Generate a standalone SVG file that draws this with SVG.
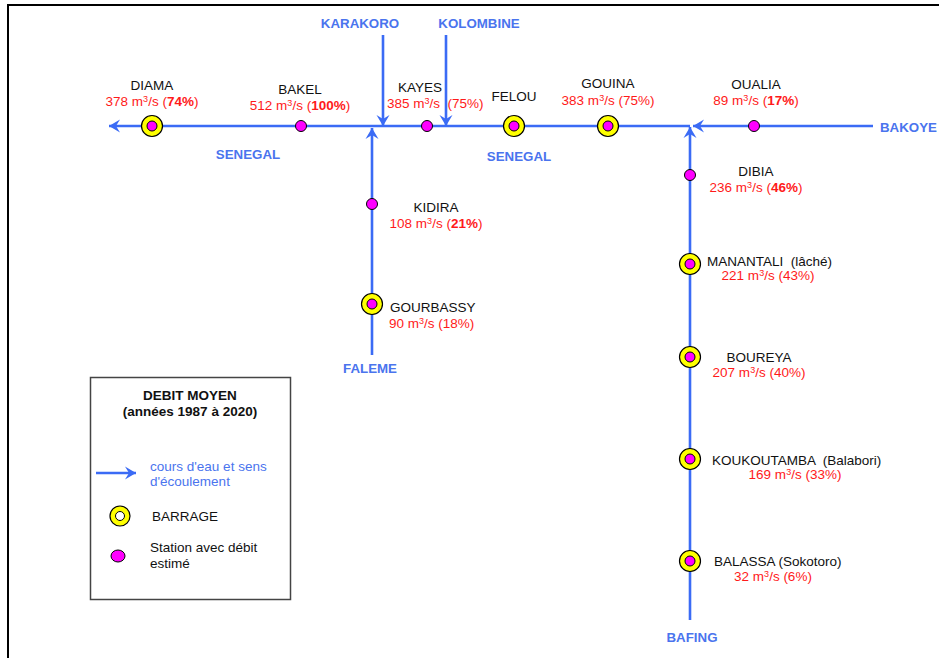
<svg xmlns="http://www.w3.org/2000/svg" width="939" height="658" viewBox="0 0 939 658">
<defs>
<marker id="ah" viewBox="-12 -7 13 14" markerWidth="13" markerHeight="14" refX="0" refY="0" orient="auto" markerUnits="userSpaceOnUse">
<path d="M0,0 L-11,-6.5 L-7,0 L-11,6.5 Z" fill="#3B6BF5"/>
</marker>
<style>
.riv{stroke:#3B6BF5;stroke-width:2.6;fill:none}
.t{font-family:"Liberation Sans",Arial,sans-serif;font-size:13.5px;fill:#111;white-space:pre}
.r{font-family:"Liberation Sans",Arial,sans-serif;font-size:13.5px;fill:#FF1A1A;white-space:pre}
.b{font-weight:bold}
.rl{font-family:"Liberation Sans",Arial,sans-serif;font-size:13.3px;font-weight:bold;fill:#4A74EE}
.dam{fill:#FFFF00;stroke:#000;stroke-width:1.2}
.st{fill:#FF00FF;stroke:#000;stroke-width:1}
.sup{font-size:9px}
</style>
</defs>
<rect width="939" height="658" fill="#fff"/>
<path d="M8,658 L8,5 L939,5" fill="none" stroke="#000" stroke-width="2"/>

<g id="connectors">
<line class="riv" x1="873" y1="126" x2="693" y2="126" marker-end="url(#ah)"/>
<line class="riv" x1="690" y1="126" x2="109" y2="126" marker-end="url(#ah)"/>
<line class="riv" x1="690" y1="620" x2="690" y2="127" marker-end="url(#ah)"/>
<line class="riv" x1="383" y1="35" x2="383" y2="126" marker-end="url(#ah)"/>
<line class="riv" x1="446" y1="35" x2="446" y2="126" marker-end="url(#ah)"/>
<line class="riv" x1="372" y1="355" x2="372" y2="128" marker-end="url(#ah)"/>
</g>

<g id="rivers">
<text class="rl" x="360" y="28" text-anchor="middle">KARAKORO</text>
<text class="rl" x="479" y="28" text-anchor="middle">KOLOMBINE</text>
<text class="rl" x="248" y="159" text-anchor="middle">SENEGAL</text>
<text class="rl" x="519" y="161" text-anchor="middle">SENEGAL</text>
<text class="rl" x="880" y="132">BAKOYE</text>
<text class="rl" x="370" y="373" text-anchor="middle">FALEME</text>
<text class="rl" x="692" y="642" text-anchor="middle">BAFING</text>
</g>

<g id="diama">
<circle class="dam" cx="152" cy="126" r="10.5"/><circle class="st" cx="152" cy="126" r="5"/>
<text class="t" x="152" y="90" text-anchor="middle">DIAMA</text>
<text class="r" x="152" y="106" text-anchor="middle">378 m<tspan class="sup" dy="-4">3</tspan><tspan dy="4">/s (</tspan><tspan class="b">74%</tspan>)</text>
</g>
<g id="bakel">
<circle class="st" cx="301" cy="126" r="5.5"/>
<text class="t" x="300" y="94" text-anchor="middle">BAKEL</text>
<text class="r" x="300" y="110" text-anchor="middle">512 m<tspan class="sup" dy="-4">3</tspan><tspan dy="4">/s (</tspan><tspan class="b">100%</tspan>)</text>
</g>
<g id="kayes">
<circle class="st" cx="427" cy="126" r="5.5"/>
<text class="t" x="420" y="92" text-anchor="middle">KAYES</text>
<text class="r" x="387" y="108">385 m<tspan class="sup" dy="-4">3</tspan><tspan dy="4">/s  (75%)</tspan></text>
</g>
<g id="felou">
<circle class="dam" cx="514" cy="126" r="10.5"/><circle class="st" cx="514" cy="126" r="5"/>
<text class="t" x="514" y="101" text-anchor="middle">FELOU</text>
</g>
<g id="gouina">
<circle class="dam" cx="608" cy="126" r="10.5"/><circle class="st" cx="608" cy="126" r="5"/>
<text class="t" x="608" y="88" text-anchor="middle">GOUINA</text>
<text class="r" x="608" y="105" text-anchor="middle">383 m<tspan class="sup" dy="-4">3</tspan><tspan dy="4">/s (75%)</tspan></text>
</g>
<g id="oualia">
<circle class="st" cx="754" cy="126" r="5.5"/>
<text class="t" x="756" y="89" text-anchor="middle">OUALIA</text>
<text class="r" x="756" y="105" text-anchor="middle">89 m<tspan class="sup" dy="-4">3</tspan><tspan dy="4">/s (</tspan><tspan class="b">17%</tspan>)</text>
</g>
<g id="dibia">
<circle class="st" cx="690" cy="175" r="5.5"/>
<text class="t" x="756" y="176" text-anchor="middle">DIBIA</text>
<text class="r" x="756" y="192" text-anchor="middle">236 m<tspan class="sup" dy="-4">3</tspan><tspan dy="4">/s (</tspan><tspan class="b">46%</tspan>)</text>
</g>
<g id="kidira">
<circle class="st" cx="372" cy="204" r="5.5"/>
<text class="t" x="436" y="212" text-anchor="middle">KIDIRA</text>
<text class="r" x="436" y="228" text-anchor="middle">108 m<tspan class="sup" dy="-4">3</tspan><tspan dy="4">/s (</tspan><tspan class="b">21%</tspan>)</text>
</g>
<g id="gourbassy">
<circle class="dam" cx="372" cy="304" r="10.5"/><circle class="st" cx="372" cy="304" r="5"/>
<text class="t" x="390" y="312">GOURBASSY</text>
<text class="r" x="389" y="328">90 m<tspan class="sup" dy="-4">3</tspan><tspan dy="4">/s (18%)</tspan></text>
</g>
<g id="manantali">
<circle class="dam" cx="690" cy="264" r="10.5"/><circle class="st" cx="690" cy="264" r="5"/>
<text class="t" x="707" y="266">MANANTALI  (lâché)</text>
<text class="r" x="768" y="280" text-anchor="middle">221 m<tspan class="sup" dy="-4">3</tspan><tspan dy="4">/s (43%)</tspan></text>
</g>
<g id="boureya">
<circle class="dam" cx="690" cy="357" r="10.5"/><circle class="st" cx="690" cy="357" r="5"/>
<text class="t" x="759" y="362" text-anchor="middle">BOUREYA</text>
<text class="r" x="759" y="377" text-anchor="middle">207 m<tspan class="sup" dy="-4">3</tspan><tspan dy="4">/s (40%)</tspan></text>
</g>
<g id="koukoutamba">
<circle class="dam" cx="690" cy="459" r="10.5"/><circle class="st" cx="690" cy="459" r="5"/>
<text class="t" x="712" y="465">KOUKOUTAMBA  (Balabori)</text>
<text class="r" x="795" y="479" text-anchor="middle">169 m<tspan class="sup" dy="-4">3</tspan><tspan dy="4">/s (33%)</tspan></text>
</g>
<g id="balassa">
<circle class="dam" cx="690" cy="561" r="10.5"/><circle class="st" cx="690" cy="561" r="5"/>
<text class="t" x="714" y="566">BALASSA (Sokotoro)</text>
<text class="r" x="773" y="581" text-anchor="middle">32 m<tspan class="sup" dy="-4">3</tspan><tspan dy="4">/s (6%)</tspan></text>
</g>

<g id="legend">
<rect x="90.5" y="377.5" width="200" height="222" fill="#fff" stroke="#444" stroke-width="1.5"/>
<text class="t b" x="190" y="400" text-anchor="middle">DEBIT MOYEN</text>
<text class="t b" x="190" y="416" text-anchor="middle">(années 1987 à 2020)</text>
<line class="riv" x1="96" y1="473" x2="136" y2="473" marker-end="url(#ah)"/>
<text class="t" x="150" y="471" style="fill:#4A74EE">cours d'eau et sens</text>
<text class="t" x="150" y="486" style="fill:#4A74EE">d'écoulement</text>
<circle class="dam" cx="120" cy="516" r="10"/><circle cx="120" cy="516" r="4.5" fill="#fff" stroke="#000" stroke-width="1"/>
<text class="t" x="152" y="521">BARRAGE</text>
<ellipse class="st" cx="118" cy="556" rx="7" ry="6"/>
<text class="t" x="150" y="552">Station avec débit</text>
<text class="t" x="150" y="568">estimé</text>
</g>
</svg>
